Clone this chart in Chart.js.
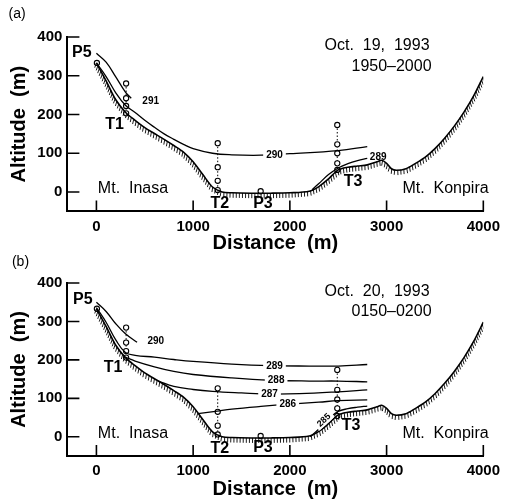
<!DOCTYPE html>
<html>
<head>
<meta charset="utf-8">
<script src="https://cdn.jsdelivr.net/npm/chart.js@4.4.1/dist/chart.umd.min.js"></script>
<style>
  body { margin: 0; background: #fff; }
  .panel { position: absolute; left: 0; width: 506px; }
  #panelA { top: 0; height: 256px; }
  #panelB { top: 245px; height: 258px; }
</style>
</head>
<body>
<div class="panel" id="panelA"><canvas id="chartA"></canvas></div>
<div class="panel" id="panelB"><canvas id="chartB"></canvas></div>
<script>
// ground profile, distance (m) / altitude (m)
const terrainDist = [0, 100, 200, 300, 400, 500, 600, 700, 800, 900, 1000, 1100, 1200, 1300, 1400, 1600, 1800, 2000,
                     2200, 2300, 2400, 2500, 2600, 2700, 2800, 2900, 2950, 3000, 3050, 3100, 3200, 3300, 3400, 3500,
                     3600, 3700, 3800, 3900, 4000];
const terrainAlt  = [333, 287, 238, 206, 185, 166, 151, 136, 120, 103, 78, 45, 13, 0, -2, -3, -3, -2,
                     2, 14, 34, 57, 64, 67, 70, 78, 82, 74, 60, 56, 60, 74, 90, 112,
                     139, 170, 206, 248, 298];

// sounding positions (T1, T2, T3) and stations P5, P3
const soundDist = [307, 1254, 2490];
const stationDist = [5, 1698];
const stationAlt = [333, 2];

// (a) Oct. 19, 1993 1950-2000 : isotherms
const a291Dist = [0, 100, 200, 300, 360];
const a291Alt  = [358, 335, 297, 258, 242];
const a290Dist = [0, 100, 200, 300, 400, 500, 600, 700, 800, 900, 1000, 1200, 1400, 1700, 2000, 2500, 2800];
const a290Alt  = [333, 298, 256, 224, 205, 185, 167, 150, 136, 123, 112, 100, 96, 95, 99, 107, 117];
const a289Dist = [2230, 2300, 2400, 2500, 2600, 2700, 2800];
const a289Alt  = [6, 22, 45, 62, 73, 81, 87];
const aT1Alt = [280, 242, 222, 203];
const aT2Alt = [126, 64, 29, 5];
const aT3Alt = [173, 123, 100, 74, 57];

// (b) Oct. 20, 1993 0150-0200 : isotherms
const b290Dist = [0, 100, 200, 300, 420];
const b290Alt  = [350, 326, 294, 268, 246];
const b289Dist = [0, 100, 200, 300, 400, 600, 800, 1000, 1400, 1800, 2200, 2500, 2800];
const b289Alt  = [336, 298, 252, 219, 212, 207, 201, 196, 189, 185, 184, 184, 188];
const b288Dist = [300, 400, 600, 800, 1000, 1400, 1800, 2200, 2500, 2800];
const b288Alt  = [207, 197, 182, 170, 162, 153, 147, 145, 145, 143];
const b287Dist = [640, 800, 1000, 1200, 1500, 1800, 2100, 2500, 2800];
const b287Alt  = [145, 131, 123, 118, 114, 111, 112, 117, 122];
const b286Dist = [1050, 1250, 1400, 1700, 2000, 2300, 2500, 2800];
const b286Alt  = [60, 67, 72, 79, 85, 90, 94, 96];
const b285Dist = [2210, 2300, 2400, 2500, 2600, 2700, 2800];
const b285Alt  = [0, 20, 46, 66, 73, 77, 80];
const bT1Alt = [284, 245, 223, 206];
const bT2Alt = [126, 65, 29, 6];
const bT3Alt = [174, 122, 97, 74, 54];

const xTicks = [0, 1000, 2000, 3000, 4000];
const yTicks = [0, 100, 200, 300, 400];

const FONT = '"Liberation Sans", Arial, Helvetica, sans-serif';

function pts(dist, alt) {
  return dist.map((d, i) => ({ x: d, y: alt[i] }));
}

function curve(dist, alt, width) {
  return {
    data: pts(dist, alt),
    borderColor: '#000',
    borderWidth: width,
    pointRadius: 0,
    tension: 0.4,
    fill: false
  };
}

// vertical dotted sounding line with open circles
function sounding(d, alts) {
  return {
    data: alts.map(a => ({ x: d, y: a })),
    borderColor: '#000',
    borderWidth: 1,
    borderDash: [1.5, 2],
    pointRadius: 2.6,
    pointBackgroundColor: '#fff',
    pointBorderColor: '#000',
    pointBorderWidth: 1.1,
    tension: 0
  };
}

function stations() {
  return {
    data: pts(stationDist, stationAlt),
    showLine: false,
    pointRadius: 2.6,
    pointBackgroundColor: '#fff',
    pointBorderColor: '#000',
    pointBorderWidth: 1.1
  };
}

// hatching under the ground line + inward axis ticks + text
const profilePlugin = {
  id: 'profile',
  afterDatasetsDraw(chart) {
    const ctx = chart.ctx;
    const area = chart.chartArea;
    const meta = chart.getDatasetMeta(0);
    const p = meta.data.map(e => ({ x: e.x, y: e.y }));
    ctx.save();
    ctx.beginPath();
    ctx.rect(area.left, area.top, area.right - area.left, area.bottom - area.top);
    ctx.clip();
    ctx.strokeStyle = '#000';
    ctx.lineWidth = 0.9;
    const step = 3.1, len = 5;
    let carry = 0;
    ctx.beginPath();
    for (let i = 0; i < p.length - 1; i++) {
      const dx = p[i + 1].x - p[i].x, dy = p[i + 1].y - p[i].y;
      const L = Math.hypot(dx, dy);
      let hx = -dy / L * 0.5, hy = dx / L * 0.5 + 1;
      const hl = Math.hypot(hx, hy);
      hx /= hl; hy /= hl;
      for (let t = carry; t < L; t += step) {
        const x = p[i].x + dx * t / L, y = p[i].y + dy * t / L;
        ctx.moveTo(x, y);
        ctx.lineTo(x + hx * len, y + hy * len);
        carry = t + step - L;
      }
    }
    ctx.stroke();
    ctx.restore();

    // inward ticks
    const xs = chart.scales.x, ys = chart.scales.y;
    ctx.save();
    ctx.strokeStyle = '#000';
    ctx.lineWidth = 1.6;
    ctx.beginPath();
    xTicks.forEach(v => {
      const x = xs.getPixelForValue(v);
      ctx.moveTo(x, area.bottom);
      ctx.lineTo(x, area.bottom - 11);
    });
    yTicks.forEach(v => {
      const y = ys.getPixelForValue(v);
      ctx.moveTo(area.left, y);
      ctx.lineTo(area.left + 12, y);
    });
    ctx.stroke();
    ctx.restore();
  },
  afterDraw(chart) {
    const ctx = chart.ctx;
    const xs = chart.scales.x, ys = chart.scales.y;
    const labels = chart.options.plugins.profile.labels;
    labels.forEach(l => {
      const x = xs.getPixelForValue(l.x), y = ys.getPixelForValue(l.y);
      ctx.save();
      ctx.font = (l.weight || 'normal') + ' ' + l.size + 'px ' + FONT;
      ctx.textAlign = l.align || 'center';
      ctx.textBaseline = 'middle';
      ctx.fillStyle = '#000';
      ctx.translate(x, y);
      if (l.rot) ctx.rotate(l.rot);
      if (l.box) {
        const w = ctx.measureText(l.text).width;
        ctx.fillStyle = '#fff';
        ctx.fillRect(-w / 2 - 3, -l.size / 2, w + 6, l.size);
        ctx.fillStyle = '#000';
      }
      ctx.fillText(l.text, 0, 0);
      ctx.restore();
    });
  }
};

function buildChart(id, datasets, labels, box) {
  return new Chart(document.getElementById(id), {
    type: 'line',
    data: { datasets: datasets },
    plugins: [profilePlugin],
    options: {
      responsive: true,
      maintainAspectRatio: false,
      animation: false,
      devicePixelRatio: 1,
      layout: { padding: { top: box.top, right: 18.3, left: 0, bottom: 0 } },
      scales: {
        x: {
          type: 'linear',
          min: -300,
          max: 4000,
          afterBuildTicks: s => { s.ticks = xTicks.map(v => ({ value: v })); },
          afterFit: s => { s.height = box.height - box.bottom; },
          grid: { display: false, drawTicks: false },
          border: { display: true, color: '#000', width: 2 },
          ticks: { color: '#000', padding: 6, maxRotation: 0, callback: v => String(v),
                   font: { family: FONT, size: 15, weight: 'bold' } },
          title: { display: true, text: 'Distance  (m)', color: '#000', padding: { top: 0, bottom: box.titlePad },
                   font: { family: FONT, size: 20, weight: 'bold' } }
        },
        y: {
          min: -50,
          max: 400,
          afterBuildTicks: s => { s.ticks = yTicks.map(v => ({ value: v })); },
          afterFit: s => { s.width = 67.4; },
          grid: { display: false, drawTicks: false },
          border: { display: true, color: '#000', width: 2 },
          ticks: { color: '#000', padding: 5, callback: v => String(v),
                   font: { family: FONT, size: 15, weight: 'bold' } },
          title: { display: true, text: 'Altitude  (m)', color: '#000', padding: { top: 7, bottom: 0 },
                   font: { family: FONT, size: 20, weight: 'bold' } }
        }
      },
      plugins: {
        legend: { display: false },
        tooltip: { enabled: false },
        profile: { labels: labels }
      }
    }
  });
}

const ground = () => Object.assign(curve(terrainDist, terrainAlt, 1.6), { tension: 0.3 });

buildChart('chartA', [
  ground(),
  curve(a291Dist, a291Alt, 1.3),
  curve(a290Dist, a290Alt, 1.3),
  curve(a289Dist, a289Alt, 1.3),
  sounding(soundDist[0], aT1Alt),
  sounding(soundDist[1], aT2Alt),
  sounding(soundDist[2], aT3Alt),
  stations()
], [
  { text: '(a)', x: -820, y: 459, size: 14 },
  { text: 'P5', x: -150, y: 360, size: 16, weight: 'bold' },
  { text: 'T1', x: 187, y: 175, size: 16, weight: 'bold' },
  { text: 'T2', x: 1277, y: -31, size: 16, weight: 'bold' },
  { text: 'P3', x: 1722, y: -31, size: 16, weight: 'bold' },
  { text: 'T3', x: 2653, y: 27, size: 16, weight: 'bold' },
  { text: 'Mt.  Inasa', x: 15, y: 8, size: 16, align: 'left' },
  { text: 'Mt.  Konpira', x: 4055, y: 9, size: 16, align: 'right' },
  { text: 'Oct.  19,  1993', x: 3444, y: 378, size: 16, align: 'right' },
  { text: '1950\u20132000', x: 3465, y: 324, size: 16, align: 'right' },
  { text: '291', x: 475, y: 235, size: 10, weight: 'bold', align: 'left' },
  { text: '290', x: 1841, y: 95.5, size: 10, weight: 'bold', box: true },
  { text: '289', x: 2913, y: 89, size: 10, weight: 'bold' }
], { top: 37, bottom: 211.4, height: 256, titlePad: 0.5 });

buildChart('chartB', [
  ground(),
  curve(b290Dist, b290Alt, 1.3),
  curve(b289Dist, b289Alt, 1.3),
  curve(b288Dist, b288Alt, 1.3),
  curve(b287Dist, b287Alt, 1.3),
  curve(b286Dist, b286Alt, 1.3),
  curve(b285Dist, b285Alt, 1.3),
  sounding(soundDist[0], bT1Alt),
  sounding(soundDist[1], bT2Alt),
  sounding(soundDist[2], bT3Alt),
  stations()
], [
  { text: '(b)', x: -785, y: 455, size: 14 },
  { text: 'P5', x: -140, y: 356, size: 16, weight: 'bold' },
  { text: 'T1', x: 172, y: 181, size: 16, weight: 'bold' },
  { text: 'T2', x: 1277, y: -32, size: 16, weight: 'bold' },
  { text: 'P3', x: 1722, y: -28, size: 16, weight: 'bold' },
  { text: 'T3', x: 2632, y: 28, size: 16, weight: 'bold' },
  { text: 'Mt.  Inasa', x: 15, y: 7, size: 16, align: 'left' },
  { text: 'Mt.  Konpira', x: 4055, y: 8, size: 16, align: 'right' },
  { text: 'Oct.  20,  1993', x: 3444, y: 378, size: 16, align: 'right' },
  { text: '0150\u20130200', x: 3465, y: 326, size: 16, align: 'right' },
  { text: '290', x: 528, y: 248, size: 10, weight: 'bold', align: 'left' },
  { text: '289', x: 1841, y: 182.5, size: 10, weight: 'bold', box: true },
  { text: '288', x: 1858, y: 146, size: 10, weight: 'bold', box: true },
  { text: '287', x: 1790, y: 111, size: 10, weight: 'bold', box: true },
  { text: '286', x: 1978, y: 85, size: 10, weight: 'bold', box: true },
  { text: '285', x: 2353, y: 43, size: 9, weight: 'bold', box: true, rot: -0.75 }
], { top: 38, bottom: 211, height: 258, titlePad: 2 });
</script>
</body>
</html>
